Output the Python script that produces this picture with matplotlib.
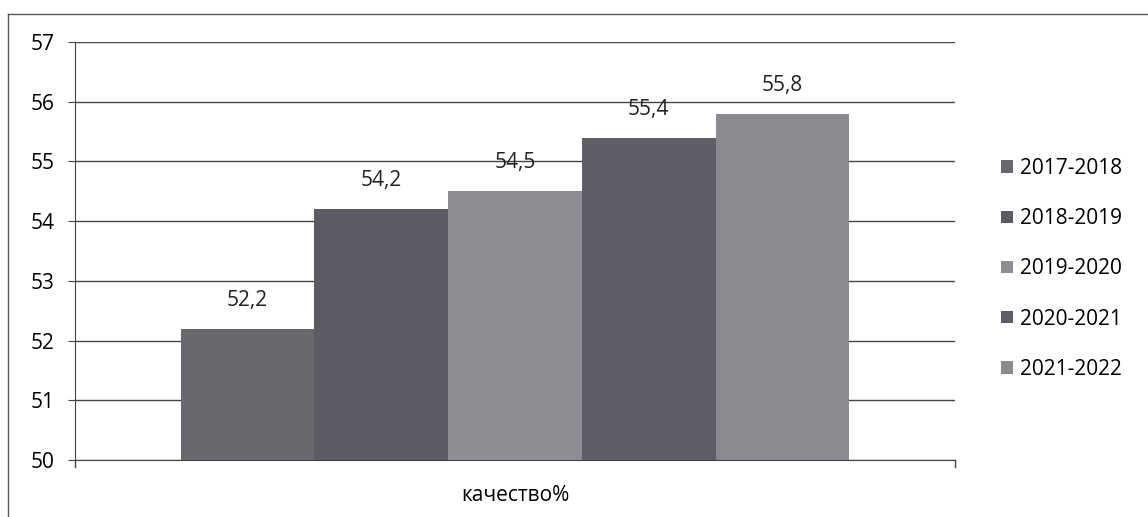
import numpy as np
import matplotlib.pyplot as plt
from matplotlib.lines import Line2D

plt.rcParams['font.family'] = ['Open Sans', 'DejaVu Sans']

years = ['2017-2018', '2018-2019', '2019-2020', '2020-2021', '2021-2022']
values = [52.2, 54.2, 54.5, 55.4, 55.8]
labels = ['52,2', '54,2', '54,5', '55,4', '55,8']
category = 'качество%'
colors = ['#68686f', '#5b5b64', '#8d8d94', '#5e5e67', '#8a8a91']

fig = plt.figure(figsize=(11.48, 5.17), dpi=100)
ax = fig.add_axes([0.0653, 0.1103, 0.7666, 0.8085])

bw = 0.152
n = len(values)
offsets = (np.arange(n) - (n - 1) / 2) * bw
for off, v, lab, c, yr in zip(offsets, values, labels, colors, years):
    ax.bar(off, v - 50, bottom=50, width=bw, color=c, label=yr, zorder=2)
    ax.text(off, v + 0.3, lab, ha='center', va='bottom', fontsize=15, color='#222222')

ax.set_xlim(-0.5, 0.5)
ax.set_ylim(50, 57)
ax.set_yticks(range(50, 58))
ax.yaxis.grid(True, color='#444444', linewidth=1.0, zorder=0)
ax.set_axisbelow(True)
for s in ['top', 'right']:
    ax.spines[s].set_visible(False)
ax.spines['left'].set_color('#444444')
ax.spines['bottom'].set_color('#444444')
ax.set_xticks([0])
ax.set_xticklabels([category])
ax.tick_params(axis='x', length=0, pad=18, labelsize=15)
ax.tick_params(axis='y', length=5, color='#444444', labelsize=15, pad=10)
# category boundary ticks
ax.plot([-0.5, -0.5], [50, 49.88], color='#444444', lw=1, clip_on=False)
ax.plot([0.5, 0.5], [50, 49.88], color='#444444', lw=1, clip_on=False)

fig.legend(loc='center left', bbox_to_anchor=(0.856, 0.48), frameon=False,
           fontsize=15, handlelength=0.55, handleheight=0.55, handletextpad=0.35,
           labelspacing=1.4)

# outer frame
fig.add_artist(Line2D([8/1148, 1.0], [1-14/517, 1-14/517], color='#555555', lw=1))
fig.add_artist(Line2D([8/1148, 8/1148], [0, 1-14/517], color='#555555', lw=1))

fig.savefig('out.png', dpi=100)
